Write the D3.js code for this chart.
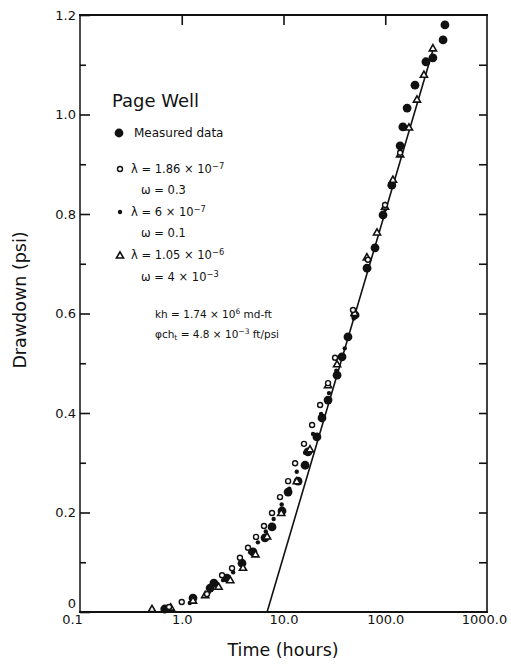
<!DOCTYPE html>
<html>
<head>
<meta charset="utf-8">
<script src="https://cdn.jsdelivr.net/npm/d3@7"></script>
<style>
  body { margin: 0; background: #fff; }
  svg { display: block; }
</style>
</head>
<body>
<svg id="chart" width="511" height="668"></svg>
<script>
// Page Well interference test: drawdown vs. time on a semilog grid

// axis ticks
const xTickValues = [0.1, 1, 10, 100, 1000];
const xTickLabels = ["0.1", "1.0", "10.0", "100.0", "1000.0"];
const yTickValues = [0, 0.2, 0.4, 0.6, 0.8, 1.0, 1.2];
const yTickLabels = ["0", "0.2", "0.4", "0.6", "0.8", "1.0", "1.2"];
const yMinorValues = [0.1, 0.3, 0.5, 0.7, 0.9, 1.1];
const yRightValues = [0.1, 0.2, 0.3, 0.4, 0.5, 0.6, 0.7, 0.8, 0.9, 1.0, 1.1];
const xTopValues = [1, 10, 100];

// [time (hours), drawdown (psi)]
const measured = [
  [0.68, 0.006], [1.29, 0.028], [1.90, 0.048], [2.07, 0.058], [2.78, 0.068],
  [3.91, 0.098], [5.01, 0.121], [6.58, 0.149], [7.71, 0.171], [9.67, 0.203],
  [11.1, 0.241], [13.9, 0.263], [16.3, 0.295], [17.4, 0.322], [21.3, 0.352],
  [23.9, 0.390], [27.4, 0.426], [33.6, 0.476], [37.6, 0.513], [43.0, 0.553],
  [50.5, 0.597], [66.2, 0.691], [79.3, 0.732], [95.1, 0.798], [116, 0.858],
  [140, 0.937], [149, 0.975], [164, 1.013], [196, 1.059], [251, 1.106],
  [294, 1.114], [370, 1.150], [386, 1.180]
];

// lambda = 1.86e-7, omega = 0.3 (open circles)
const modelOmega03 = [
  [0.75, 0.010], [1.00, 0.020], [1.77, 0.036], [2.49, 0.074], [3.12, 0.088],
  [3.73, 0.109], [4.48, 0.129], [5.37, 0.151], [6.43, 0.173], [7.71, 0.199],
  [9.24, 0.231], [11.1, 0.263], [13.0, 0.299], [15.9, 0.338], [19.1, 0.376],
  [22.9, 0.416], [27.4, 0.460], [32.1, 0.511], [48.2, 0.607], [67.6, 0.708],
  [99.5, 0.818], [140, 0.923]
];

// lambda = 6e-7, omega = 0.1 (small dots)
const modelOmega01 = [
  [0.70, 0.004], [1.20, 0.018], [1.85, 0.040], [2.55, 0.064], [3.20, 0.080],
  [3.90, 0.100], [4.70, 0.120], [5.60, 0.140], [6.70, 0.162], [8.00, 0.187],
  [9.60, 0.216], [11.4, 0.248], [13.5, 0.282], [16.3, 0.320], [19.5, 0.358],
  [23.4, 0.398], [28.0, 0.440], [33.0, 0.485], [40.0, 0.530], [49.0, 0.590],
  [68.0, 0.690], [100, 0.810], [140, 0.920]
];

// lambda = 1.05e-6, omega = 4e-3 (open triangles)
const modelOmega0004 = [
  [0.51, 0.005], [0.78, 0.008], [1.29, 0.022], [1.70, 0.033], [2.30, 0.050],
  [3.00, 0.063], [4.00, 0.088], [5.30, 0.115], [6.90, 0.151], [9.50, 0.198],
  [13.5, 0.262], [18.2, 0.326], [27.4, 0.455], [33.6, 0.497], [50.0, 0.600],
  [66.0, 0.712], [83.0, 0.762], [99.5, 0.814], [119, 0.868], [140, 0.919],
  [171, 0.973], [205, 1.029], [240, 1.079], [294, 1.132]
];

// semilog straight line fitted through the late-time data
const semilogLine = [[6.9, 0], [300, 1.135]];

const svg = d3.select("#chart");
const FONT = "DejaVu Sans, Liberation Sans, sans-serif";

const x = d3.scaleLog().domain([0.1, 1000]).range([80, 487]);
const y = d3.scaleLinear().domain([0, 1.2]).range([612, 15]);

const [x0, x1] = x.range();
const [y0, y1] = y.range();

function styleAxis(g) {
  g.select(".domain").remove();
  g.selectAll("line").attr("stroke", "#111").attr("stroke-width", 1.6);
  g.selectAll("text").attr("font-family", FONT).attr("font-size", 13).attr("fill", "#111");
}

// left axis: labelled major ticks, then minor ticks
const left = svg.append("g")
  .attr("transform", `translate(${x0},0)`)
  .call(d3.axisLeft(y).tickValues(yTickValues)
    .tickFormat((d, i) => yTickLabels[i])
    .tickSizeInner(-10).tickSizeOuter(0).tickPadding(4))
  .call(styleAxis);
// the zero label sits just above the bottom axis
left.selectAll("text").filter(d => d === 0).attr("dy", "-0.32em");

svg.append("g")
  .attr("transform", `translate(${x0},0)`)
  .call(d3.axisLeft(y).tickValues(yMinorValues).tickFormat("")
    .tickSizeInner(-6).tickSizeOuter(0))
  .call(styleAxis);

// right axis ticks
svg.append("g")
  .attr("transform", `translate(${x1},0)`)
  .call(d3.axisRight(y).tickValues(yRightValues).tickFormat("")
    .tickSizeInner(-8).tickSizeOuter(0))
  .call(styleAxis);

// top axis ticks at each decade
svg.append("g")
  .attr("transform", `translate(0,${y1})`)
  .call(d3.axisTop(x).tickValues(xTopValues).tickFormat("")
    .tickSizeInner(-10).tickSizeOuter(0))
  .call(styleAxis);

// bottom axis labels
const bottom = svg.append("g")
  .attr("transform", `translate(0,${y0})`)
  .call(d3.axisBottom(x).tickValues(xTickValues)
    .tickFormat((d, i) => xTickLabels[i])
    .tickSizeInner(0).tickSizeOuter(0).tickPadding(3))
  .call(styleAxis);
bottom.selectAll("text")
  .attr("dx", (d, i) => i === 0 ? -8 : (i === xTickValues.length - 1 ? -3 : 0));

// frame
const frame = svg.append("g").attr("stroke", "#111").attr("fill", "none");
frame.append("line").attr("x1", x0 - 1).attr("x2", x1 + 1).attr("y1", y1).attr("y2", y1).attr("stroke-width", 2);
frame.append("line").attr("x1", x0 - 1).attr("x2", x1 + 1).attr("y1", y0).attr("y2", y0).attr("stroke-width", 2.2);
frame.append("line").attr("x1", x0).attr("x2", x0).attr("y1", y1).attr("y2", y0).attr("stroke-width", 1.5);
frame.append("line").attr("x1", x1).attr("x2", x1).attr("y1", y1).attr("y2", y0).attr("stroke-width", 1.6);

// axis titles
svg.append("text")
  .attr("x", 283).attr("y", 656)
  .attr("text-anchor", "middle")
  .attr("font-family", FONT).attr("font-size", 17.5).attr("fill", "#111")
  .text("Time (hours)");

svg.append("text")
  .attr("transform", "translate(26,300) rotate(-90)")
  .attr("text-anchor", "middle")
  .attr("font-family", FONT).attr("font-size", 17.5).attr("fill", "#111")
  .text("Drawdown (psi)");

// fitted line
svg.append("path")
  .datum(semilogLine)
  .attr("fill", "none").attr("stroke", "#111").attr("stroke-width", 1.6)
  .attr("d", d3.line().x(d => x(d[0])).y(d => y(d[1])));

// measured data
svg.append("g").selectAll("circle")
  .data(measured).join("circle")
  .attr("cx", d => x(d[0])).attr("cy", d => y(d[1]))
  .attr("r", 4.4).attr("fill", "#111");

// omega = 0.1 model
svg.append("g").selectAll("circle")
  .data(modelOmega01).join("circle")
  .attr("cx", d => x(d[0])).attr("cy", d => y(d[1]))
  .attr("r", 2.2).attr("fill", "#111");

// omega = 4e-3 model
const tri = d3.symbol().type(d3.symbolTriangle).size(22);
svg.append("g").selectAll("path")
  .data(modelOmega0004).join("path")
  .attr("transform", d => `translate(${x(d[0])},${y(d[1])})`)
  .attr("d", tri)
  .attr("fill", "#fff").attr("stroke", "#111").attr("stroke-width", 1.6);

// omega = 0.3 model
svg.append("g").selectAll("circle")
  .data(modelOmega03).join("circle")
  .attr("cx", d => x(d[0])).attr("cy", d => y(d[1]))
  .attr("r", 2.5).attr("fill", "#fff").attr("stroke", "#111").attr("stroke-width", 1.4);

// legend
const legend = svg.append("g").attr("font-family", FONT).attr("fill", "#111");

legend.append("text").attr("x", 112).attr("y", 107)
  .attr("font-size", 18).text("Page Well");

legend.append("circle").attr("cx", 119).attr("cy", 133).attr("r", 4.4).attr("fill", "#111");
legend.append("text").attr("x", 134).attr("y", 137).attr("font-size", 12).text("Measured data");

// writes a line of text made of [string, "sup"|"sub"|null] parts
function richLine(px, py, size, parts) {
  const t = legend.append("text").attr("x", px).attr("y", py).attr("font-size", size);
  parts.forEach(([s, kind]) => {
    const sp = t.append("tspan").text(s);
    if (kind === "sup") sp.attr("font-size", size * 0.72).attr("baseline-shift", "45%");
    if (kind === "sub") sp.attr("font-size", size * 0.72).attr("baseline-shift", "-25%");
  });
  return t;
}

legend.append("circle").attr("cx", 120).attr("cy", 169).attr("r", 2.5)
  .attr("fill", "#fff").attr("stroke", "#111").attr("stroke-width", 1.4);
richLine(131, 173, 11.5, [["λ = 1.86 × 10", null], ["−7", "sup"]]);
richLine(141, 194, 11.5, [["ω = 0.3", null]]);

legend.append("circle").attr("cx", 120).attr("cy", 212).attr("r", 2.2).attr("fill", "#111");
richLine(131, 216, 11.5, [["λ = 6 × 10", null], ["−7", "sup"]]);
richLine(141, 237, 11.5, [["ω = 0.1", null]]);

legend.append("path").attr("transform", "translate(120,256)").attr("d", tri)
  .attr("fill", "#fff").attr("stroke", "#111").attr("stroke-width", 1.6);
richLine(131, 259, 11.5, [["λ = 1.05 × 10", null], ["−6", "sup"]]);
richLine(141, 281, 11.5, [["ω = 4 × 10", null], ["−3", "sup"]]);

richLine(155, 318, 10.5, [["kh = 1.74 × 10", null], ["6", "sup"], [" md-ft", null]]);
richLine(155, 338, 10.5, [["φch", null], ["t", "sub"], [" = 4.8 × 10", null], ["−3", "sup"], [" ft/psi", null]]);
</script>
</body>
</html>
